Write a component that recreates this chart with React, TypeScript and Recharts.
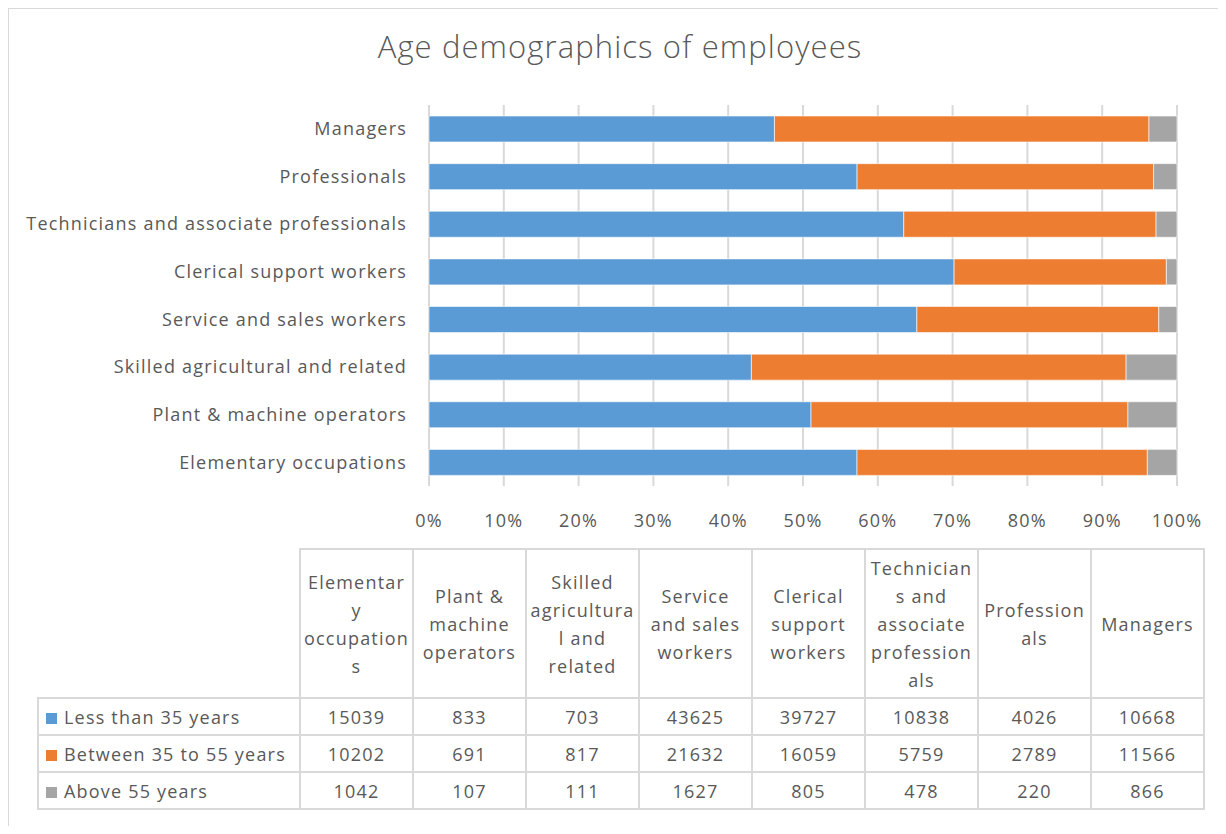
import React from 'react';
import { BarChart, Bar, XAxis, YAxis, CartesianGrid } from 'recharts';

const categories = [
  'Elementary occupations',
  'Plant & machine operators',
  'Skilled agricultural and related',
  'Service and sales workers',
  'Clerical support workers',
  'Technicians and associate professionals',
  'Professionals',
  'Managers',
];

// how Excel wrapped the headers of the data table
const headerLines = [
  ['Elementar', 'y', 'occupation', 's'],
  ['Plant &', 'machine', 'operators'],
  ['Skilled', 'agricultura', 'l and', 'related'],
  ['Service', 'and sales', 'workers'],
  ['Clerical', 'support', 'workers'],
  ['Technician', 's and', 'associate', 'profession', 'als'],
  ['Profession', 'als'],
  ['Managers'],
];

const under35 = [15039, 833, 703, 43625, 39727, 10838, 4026, 10668];
const between35and55 = [10202, 691, 817, 21632, 16059, 5759, 2789, 11566];
const above55 = [1042, 107, 111, 1627, 805, 478, 220, 866];

const percentTicks = [0, 0.1, 0.2, 0.3, 0.4, 0.5, 0.6, 0.7, 0.8, 0.9, 1];

const series = [
  { key: 'young', name: 'Less than 35 years', color: '#5B9BD5', values: under35 },
  { key: 'mid', name: 'Between 35 to 55 years', color: '#ED7D31', values: between35and55 },
  { key: 'old', name: 'Above 55 years', color: '#A5A5A5', values: above55 },
];

const data = categories.map((name, i) => ({
  name,
  young: under35[i],
  mid: between35and55[i],
  old: above55[i],
}));

const FONT = '"Open Sans", "Liberation Sans", sans-serif';
const TEXT = '#595959';
const LINE = '#D9D9D9';

const cell: React.CSSProperties = {
  border: `2px solid ${LINE}`,
  textAlign: 'center',
  padding: 0,
  color: TEXT,
};

const tickStyle = { fill: TEXT, fontSize: 18, fontFamily: FONT, letterSpacing: 1.2 };

export default function App() {
  return (
    <div
      style={{
        position: 'relative',
        width: 1226,
        height: 834,
        margin: -8,
        overflow: 'hidden',
        background: '#fff',
        fontFamily: FONT,
      }}
    >
      <div
        style={{
          position: 'absolute',
          left: 7,
          top: 7,
          width: 1240,
          height: 860,
          border: `2px solid ${LINE}`,
          boxSizing: 'border-box',
        }}
      />
      <div
        style={{
          position: 'absolute',
          top: 25,
          left: 0,
          width: 1240,
          textAlign: 'center',
          fontSize: 31,
          letterSpacing: 1.1,
          fontWeight: 300,
          color: TEXT,
        }}
      >
        Age demographics of employees
      </div>

      <div style={{ position: 'absolute', left: 0, top: 0 }}>
        <BarChart
          width={1226}
          height={560}
          data={data}
          layout="vertical"
          stackOffset="expand"
          margin={{ top: 105, right: 49, bottom: 44, left: 0 }}
        >
          <CartesianGrid horizontal={false} stroke={LINE} strokeWidth={2} />
          <XAxis
            type="number"
            domain={[0, 1]}
            ticks={percentTicks}
            tickFormatter={(v: number) => `${Math.round(v * 100)}%`}
            axisLine={false}
            tickLine={false}
            tickSize={0}
            tickMargin={28}
            tick={tickStyle}
            interval={0}
          />
          <YAxis
            type="category"
            dataKey="name"
            reversed
            width={429}
            axisLine={false}
            tickLine={false}
            tickSize={0}
            tickMargin={22}
            tick={tickStyle}
            interval={0}
          />
          {series.map((s) => (
            <Bar
              key={s.key}
              dataKey={s.key}
              name={s.name}
              stackId="a"
              fill={s.color}
              barSize={26}
              stroke="#fff"
              strokeWidth={0.6}
              isAnimationActive={false}
            />
          ))}
        </BarChart>
      </div>

      <table
        style={{
          position: 'absolute',
          left: 37,
          top: 548,
          borderCollapse: 'collapse',
          fontSize: 18,
          lineHeight: '28px',
          letterSpacing: 1.2,
          tableLayout: 'fixed',
        }}
      >
        <colgroup>
          <col style={{ width: 262 }} />
          {categories.map((c) => (
            <col key={c} style={{ width: 113 }} />
          ))}
        </colgroup>
        <tbody>
          <tr style={{ height: 149 }}>
            <td style={{ padding: 0, border: 'none', borderBottom: `2px solid ${LINE}`, borderRight: `2px solid ${LINE}` }} />
            {headerLines.map((lines, i) => (
              <td key={i} style={{ ...cell, whiteSpace: 'nowrap', overflow: 'hidden' }}>
                {lines.map((l, j) => (
                  <div key={j}>{l}</div>
                ))}
              </td>
            ))}
          </tr>
          {series.map((s) => (
            <tr key={s.key} style={{ height: 37 }}>
              <td style={{ ...cell, textAlign: 'left', whiteSpace: 'nowrap' }}>
                <span
                  style={{
                    display: 'inline-block',
                    width: 11,
                    height: 11,
                    background: s.color,
                    marginLeft: 7,
                    marginRight: 7,
                  }}
                />
                {s.name}
              </td>
              {s.values.map((v, i) => (
                <td key={i} style={cell}>
                  {v}
                </td>
              ))}
            </tr>
          ))}
        </tbody>
      </table>
    </div>
  );
}
